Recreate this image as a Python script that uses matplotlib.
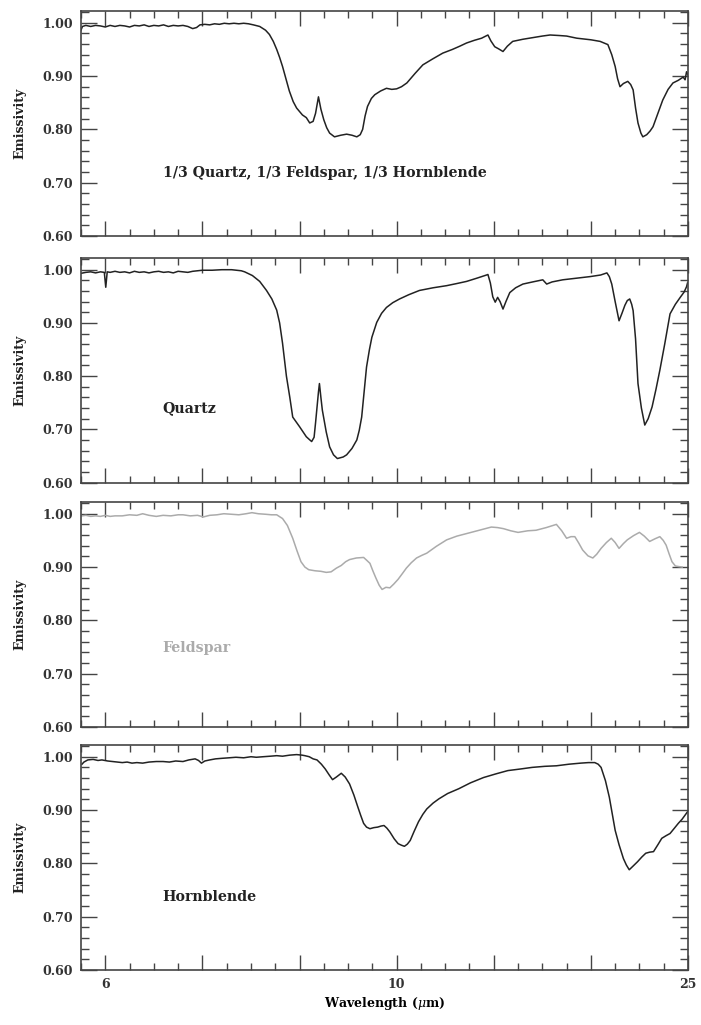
import matplotlib
matplotlib.use("Agg")
import matplotlib.pyplot as plt
from matplotlib.ticker import MultipleLocator, FixedLocator, FixedFormatter

plt.rcParams["font.family"] = ["DejaVu Serif"]
plt.rcParams["mathtext.fontset"] = "dejavuserif"

# Thermal-infrared emissivity spectra, sampled on wavenumber (cm^-1)
mix_wn = [1651, 1647, 1640, 1630, 1620, 1610, 1600, 1590, 1580, 1570, 1560, 1550, 1540,
          1530, 1520, 1510, 1500, 1490, 1480, 1470, 1460, 1450, 1440, 1430, 1420, 1412,
          1405, 1395, 1385, 1375, 1365, 1355, 1345, 1335, 1325, 1315, 1305, 1295, 1282,
          1270, 1262, 1254, 1247, 1241, 1235, 1228, 1221, 1213, 1206, 1194, 1186, 1179,
          1172, 1167, 1161, 1156, 1150, 1144, 1138, 1128, 1115, 1103, 1092, 1082, 1075,
          1070, 1065, 1060, 1052, 1045, 1033, 1021, 1010, 1000, 990, 979, 962, 946, 926,
          905, 885, 870, 856, 840, 825, 812, 806, 798, 790, 781, 772, 761, 740, 720, 700,
          684, 665, 650, 629, 600, 581, 565, 557, 550, 545, 540, 533, 524, 518, 513, 508,
          503, 497, 493, 485, 478, 472, 462, 452, 441, 431, 420, 410, 406, 403, 400]
mix_em = [0.984, 0.993, 0.995, 0.993, 0.995, 0.994, 0.992, 0.995, 0.993, 0.995, 0.994,
          0.992, 0.995, 0.994, 0.996, 0.993, 0.995, 0.994, 0.996, 0.993, 0.995, 0.994,
          0.995, 0.993, 0.989, 0.991, 0.996, 0.997, 0.996, 0.998, 0.997, 0.999, 0.998,
          0.999, 0.998, 0.999, 0.998, 0.996, 0.993, 0.986, 0.978, 0.965, 0.950, 0.935,
          0.918, 0.895, 0.872, 0.852, 0.840, 0.827, 0.822, 0.812, 0.815, 0.830, 0.861,
          0.838, 0.818, 0.803, 0.793, 0.786, 0.789, 0.791, 0.789, 0.786, 0.790, 0.800,
          0.825, 0.843, 0.858, 0.865, 0.872, 0.877, 0.875, 0.876, 0.880, 0.887, 0.905,
          0.921, 0.932, 0.943, 0.950, 0.956, 0.962, 0.967, 0.971, 0.977, 0.966, 0.955,
          0.951, 0.946, 0.956, 0.965, 0.969, 0.972, 0.975, 0.977, 0.976, 0.975, 0.971,
          0.968, 0.965, 0.959, 0.940, 0.918, 0.895, 0.880, 0.886, 0.890, 0.884, 0.874,
          0.840, 0.812, 0.793, 0.786, 0.790, 0.797, 0.805, 0.830, 0.855, 0.875, 0.887,
          0.892, 0.898, 0.893, 0.908, 0.902]

quartz_wn = [1651, 1640, 1630, 1620, 1610, 1602, 1599, 1596, 1590, 1580, 1570, 1560, 1550,
             1540, 1530, 1520, 1510, 1500, 1490, 1480, 1470, 1460, 1450, 1440, 1430, 1420,
             1410, 1400, 1380, 1360, 1340, 1320, 1313, 1297, 1282, 1268, 1257, 1247, 1241,
             1235, 1227, 1220, 1214, 1200, 1186, 1180, 1175, 1170, 1167, 1161, 1159, 1156,
             1153, 1145, 1138, 1130, 1122, 1110, 1103, 1092, 1082, 1077, 1072, 1067, 1062,
             1056, 1051, 1041, 1031, 1021, 1008, 994, 975, 953, 925, 897, 876, 856, 835,
             815, 812, 807, 802, 797, 792, 787, 781, 775, 767, 755, 740, 720, 699, 691,
             680, 658, 630, 602, 580, 567, 562, 557, 550, 542, 536, 530, 525, 520, 516,
             513, 508, 503, 496, 489, 482, 474, 466, 458, 448, 437, 426, 416, 408, 403, 401]
quartz_em = [0.993, 0.995, 0.996, 0.994, 0.996, 0.995, 0.967, 0.996, 0.995, 0.997, 0.995,
             0.996, 0.994, 0.997, 0.995, 0.996, 0.994, 0.996, 0.997, 0.995, 0.996, 0.994,
             0.997, 0.996, 0.995, 0.997, 0.998, 0.999, 0.999, 1.000, 1.000, 0.998, 0.996,
             0.989, 0.978, 0.961, 0.945, 0.924, 0.900, 0.862, 0.800, 0.760, 0.723, 0.705,
             0.686, 0.681, 0.677, 0.685, 0.712, 0.770, 0.786, 0.760, 0.736, 0.695, 0.667,
             0.652, 0.645, 0.648, 0.652, 0.664, 0.680, 0.698, 0.723, 0.770, 0.817, 0.850,
             0.873, 0.901, 0.918, 0.929, 0.938, 0.945, 0.953, 0.961, 0.966, 0.970, 0.974,
             0.978, 0.984, 0.990, 0.991, 0.975, 0.949, 0.939, 0.948, 0.940, 0.926, 0.940,
             0.957, 0.966, 0.973, 0.977, 0.981, 0.973, 0.977, 0.981, 0.984, 0.987, 0.990,
             0.994, 0.987, 0.973, 0.940, 0.904, 0.918, 0.933, 0.942, 0.945, 0.935, 0.923,
             0.870, 0.786, 0.740, 0.708, 0.720, 0.742, 0.775, 0.811, 0.860, 0.917, 0.935,
             0.948, 0.958, 0.968, 0.975]

feldspar_wn = [1648, 1640, 1630, 1620, 1610, 1600, 1590, 1580, 1565, 1550, 1535, 1523, 1510,
               1495, 1481, 1465, 1450, 1440, 1425, 1410, 1398, 1385, 1370, 1356, 1340, 1325,
               1310, 1298, 1285, 1270, 1258, 1247, 1235, 1225, 1214, 1205, 1197, 1189, 1181,
               1168, 1156, 1145, 1135, 1124, 1114, 1105, 1097, 1083, 1068, 1062, 1055, 1049,
               1043, 1036, 1030, 1022, 1014, 1006, 997, 988, 980, 970, 959, 948, 938, 918,
               897, 876, 855, 830, 805, 792, 780, 765, 750, 730, 713, 692, 671, 660, 650,
               641, 633, 625, 617, 606, 596, 588, 579, 568, 558, 550, 542, 533, 525, 512,
               500, 490, 479, 468, 458, 451, 445, 439, 433, 426, 420, 412]
feldspar_em = [0.996, 0.997, 0.995, 0.996, 0.995, 0.997, 0.995, 0.996, 0.996, 0.998, 0.997,
               1.000, 0.997, 0.995, 0.997, 0.996, 0.998, 0.998, 0.996, 0.997, 0.994, 0.997,
               0.998, 1.000, 0.999, 0.998, 1.000, 1.002, 1.000, 0.999, 0.998, 0.998, 0.991,
               0.978, 0.954, 0.930, 0.910, 0.900, 0.895, 0.893, 0.892, 0.890, 0.891, 0.898,
               0.903, 0.910, 0.914, 0.917, 0.918, 0.913, 0.907, 0.893, 0.880, 0.866, 0.858,
               0.862, 0.861, 0.868, 0.877, 0.888, 0.898, 0.908, 0.917, 0.922, 0.926, 0.939,
               0.951, 0.958, 0.963, 0.969, 0.975, 0.974, 0.972, 0.968, 0.965, 0.968, 0.969,
               0.974, 0.980, 0.968, 0.954, 0.957, 0.957, 0.945, 0.932, 0.921, 0.917, 0.924,
               0.935, 0.946, 0.954, 0.946, 0.935, 0.944, 0.951, 0.959, 0.965, 0.958, 0.948,
               0.953, 0.957, 0.950, 0.941, 0.925, 0.910, 0.902, 0.901, 0.900]

hornblende_wn = [1648, 1644, 1636, 1625, 1615, 1607, 1595, 1585, 1575, 1565, 1555, 1545,
                 1535, 1523, 1510, 1495, 1481, 1468, 1455, 1440, 1428, 1415, 1408, 1402,
                 1395, 1385, 1373, 1360, 1345, 1331, 1315, 1300, 1289, 1275, 1260, 1247,
                 1235, 1220, 1206, 1195, 1189, 1180, 1172, 1164, 1155, 1147, 1139, 1132,
                 1124, 1114, 1106, 1097, 1088, 1080, 1074, 1068, 1062, 1055, 1047, 1039,
                 1032, 1026, 1020, 1014, 1005, 997, 990, 984, 978, 972, 964, 955, 946, 938,
                 925, 913, 895, 872, 848, 821, 795, 771, 745, 721, 695, 671, 645, 621, 605,
                 592, 585, 579, 570, 562, 556, 550, 542, 533, 527, 521, 513, 504, 495, 487,
                 479, 471, 462, 454, 445, 437, 428, 420, 412, 404, 400]
hornblende_em = [0.986, 0.990, 0.994, 0.995, 0.993, 0.994, 0.992, 0.991, 0.990, 0.989, 0.990,
                 0.988, 0.989, 0.988, 0.990, 0.991, 0.991, 0.990, 0.992, 0.991, 0.994, 0.996,
                 0.993, 0.988, 0.992, 0.994, 0.996, 0.997, 0.998, 0.999, 0.998, 1.000, 0.999,
                 1.000, 1.001, 1.002, 1.001, 1.003, 1.004, 1.003, 1.002, 1.000, 0.996, 0.994,
                 0.986, 0.977, 0.966, 0.957, 0.962, 0.969, 0.962, 0.949, 0.928, 0.906, 0.890,
                 0.875, 0.868, 0.865, 0.867, 0.868, 0.870, 0.871, 0.866, 0.859, 0.846, 0.837,
                 0.834, 0.832, 0.836, 0.843, 0.860, 0.878, 0.892, 0.902, 0.913, 0.921, 0.931,
                 0.940, 0.951, 0.961, 0.968, 0.974, 0.977, 0.980, 0.982, 0.983, 0.986, 0.988,
                 0.989, 0.989, 0.986, 0.980, 0.955, 0.924, 0.893, 0.862, 0.835, 0.809, 0.797,
                 0.788, 0.795, 0.803, 0.812, 0.819, 0.821, 0.822, 0.835, 0.847, 0.852, 0.856,
                 0.866, 0.875, 0.883, 0.893, 0.898]

panel_names = ["1/3 Quartz, 1/3 Feldspar, 1/3 Hornblende", "Quartz", "Feldspar", "Hornblende"]
panel_wn = [mix_wn, quartz_wn, feldspar_wn, hornblende_wn]
panel_em = [mix_em, quartz_em, feldspar_em, hornblende_em]
panel_colors = ["#222222", "#222222", "#ababab", "#222222"]
label_y = [0.718, 0.74, 0.748, 0.737]

# wavelength labels (um) at their wavenumber positions
xtick_wn = [1600, 1000, 400]
xtick_labels = ["6", "10", "25"]
ytick_values = [0.60, 0.70, 0.80, 0.90, 1.00]

W, H = 701, 1025
fig = plt.figure(figsize=(W / 100, H / 100), dpi=100)

left_px, right_px = 81, 688
panel_px = [(11, 236), (258, 482.5), (502, 727), (745, 970)]
frame_col = "#444444"

for i, (top, bot) in enumerate(panel_px):
    ax = fig.add_axes([left_px / W, 1 - bot / H, (right_px - left_px) / W, (bot - top) / H])
    ax.plot(panel_wn[i], panel_em[i], color=panel_colors[i], lw=1.1)
    ax.set_xlim(1650, 400)
    ax.set_ylim(0.60, 1.022)

    ax.xaxis.set_major_locator(MultipleLocator(200))
    ax.xaxis.set_minor_locator(MultipleLocator(50))
    ax.yaxis.set_major_locator(FixedLocator(ytick_values))
    ax.yaxis.set_minor_locator(MultipleLocator(0.02))
    ax.set_yticklabels([f"{v:.2f}" for v in ytick_values])

    if i == len(panel_px) - 1:
        majors = list(range(1600, 399, -200))
        labels = [xtick_labels[xtick_wn.index(m)] if m in xtick_wn else "" for m in majors]
        ax.xaxis.set_major_locator(FixedLocator(majors))
        ax.xaxis.set_major_formatter(FixedFormatter(labels))
        ax.set_xlabel(r"Wavelength ($\mu$m)", fontsize=9, fontweight="bold", labelpad=3)
    else:
        ax.tick_params(axis="x", labelbottom=False)

    ax.tick_params(axis="both", which="both", direction="in", top=True, right=True,
                   color=frame_col, width=1.0)
    ax.tick_params(axis="x", which="major", length=10.5, pad=6)
    ax.tick_params(axis="x", which="minor", length=5)
    ax.tick_params(axis="y", which="major", length=11.5, pad=6)
    ax.tick_params(axis="y", which="minor", length=6)
    for lab in ax.get_xticklabels() + ax.get_yticklabels():
        lab.set_fontsize(9)
        lab.set_fontweight("bold")
        lab.set_color("#333333")
    for sp in ax.spines.values():
        sp.set_color(frame_col)
        sp.set_linewidth(1.2)

    ax.set_ylabel("Emissivity", fontsize=9, fontweight="bold", color="#222222", labelpad=11)
    ax.text(1482, label_y[i], panel_names[i], fontsize=10.2, fontweight="bold",
            color=panel_colors[i], ha="left", va="center")

fig.savefig("out.png", dpi=100)
